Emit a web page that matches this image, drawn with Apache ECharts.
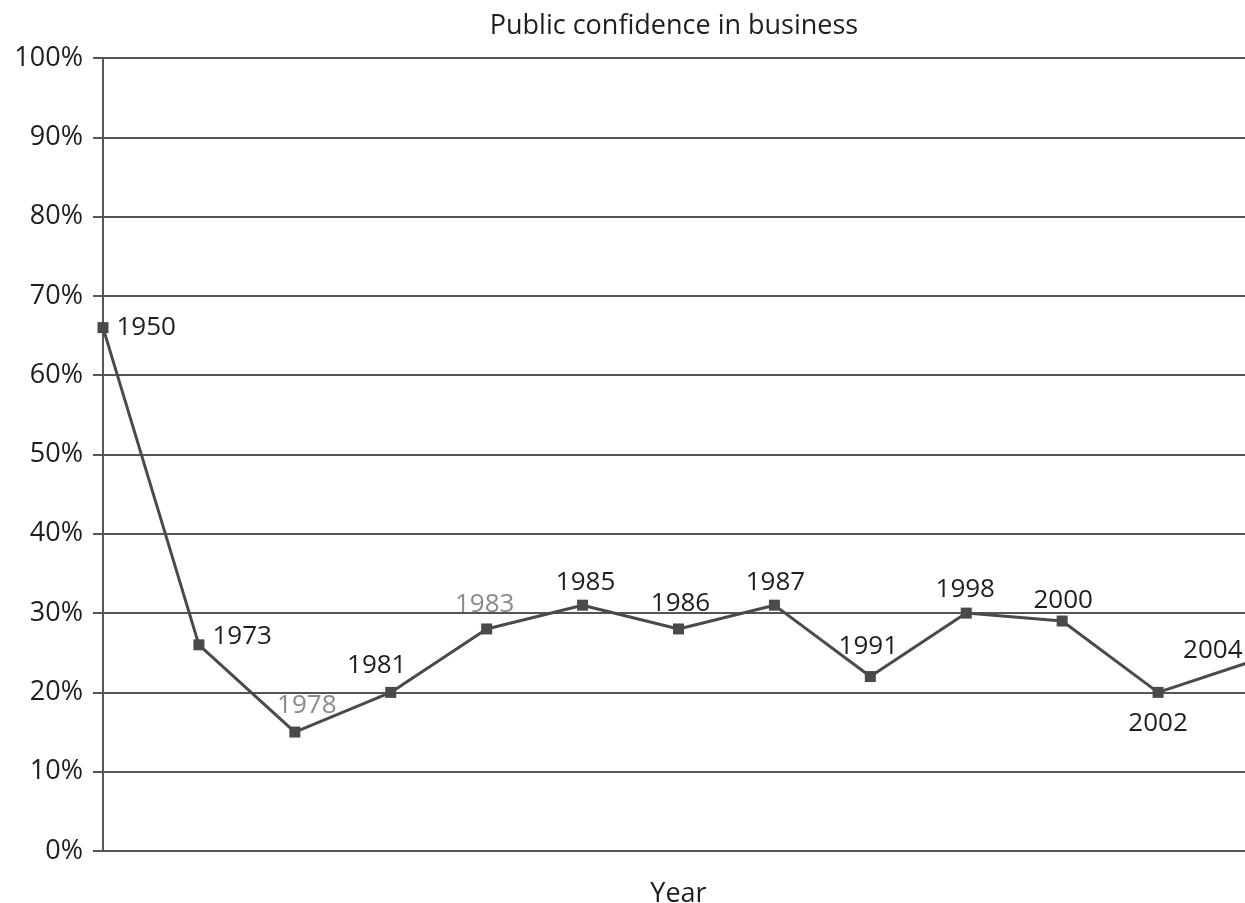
<!DOCTYPE html>
<html>
<head>
<meta charset="utf-8">
<script src="https://cdn.jsdelivr.net/npm/echarts@6/dist/echarts.min.js"></script>
<style>
html,body{margin:0;padding:0;background:#fff;}
#chart{width:1245px;height:903px;}
</style>
</head>
<body>
<div id="chart"></div>
<script>
var years = ['1950','1973','1978','1981','1983','1985','1986','1987','1991','1998','2000','2002','2004'];
var confidence = [66, 26, 15, 20, 28, 31, 28, 31, 22, 30, 29, 20, 24];
var labelPlacement = ['right','right','top','top','top','top','top','top','top','top','top','bottom','left'];
var labelOffsets = [[0,0],[0,-8],[12,0],[-14,0],[-2,2],[3,4],[2,1],[1,4],[-2,-3],[-1,3],[1,6],[0,5],[2,-10]];
var labelColors = ['#1e1e1e','#1e1e1e','#8a8a8a','#1e1e1e','#8a8a8a','#1e1e1e','#1e1e1e','#1e1e1e','#1e1e1e','#1e1e1e','#1e1e1e','#1e1e1e','#1e1e1e'];
var yTicks = [0,10,20,30,40,50,60,70,80,90,100];

var font = '"Open Sans", "Noto Sans", sans-serif';
var data = confidence.map(function (v, i) {
  return {
    value: v,
    label: {
      position: labelPlacement[i],
      offset: labelOffsets[i],
      color: labelColors[i]
    }
  };
});

var chart = echarts.init(document.getElementById('chart'));
chart.setOption({
  backgroundColor: '#ffffff',
  animation: false,
  title: {
    text: 'Public confidence in business',
    left: 669,
    textAlign: 'center',
    top: 8,
    textStyle: {fontFamily: font, fontSize: 27, fontWeight: 'normal', color: '#1e1e1e'}
  },
  grid: {left: 103, right: -9, top: 58, bottom: 52, containLabel: false, outerBoundsMode: 'none'},
  xAxis: {
    type: 'category',
    data: years,
    boundaryGap: false,
    axisLine: {show: true, lineStyle: {color: '#555', width: 2}},
    axisTick: {show: false},
    axisLabel: {show: false},
    splitLine: {show: false},
    name: 'Year',
    nameLocation: 'middle',
    nameGap: 30,
    nameTextStyle: {fontFamily: font, fontSize: 27, color: '#1e1e1e'}
  },
  yAxis: {
    type: 'value',
    min: 0,
    max: 100,
    interval: 10,
    axisLine: {show: true, lineStyle: {color: '#555', width: 2}},
    axisTick: {show: true, length: 10, lineStyle: {color: '#555', width: 2}},
    axisLabel: {
      formatter: function (v) { return yTicks.indexOf(v) >= 0 ? v + '%' : ''; },
      fontFamily: font, fontSize: 27, color: '#1e1e1e', margin: 20
    },
    splitLine: {show: true, lineStyle: {color: '#555', width: 2}}
  },
  series: [{
    type: 'line',
    data: data,
    symbol: 'rect',
    symbolSize: 11,
    itemStyle: {color: '#4a4a4a'},
    lineStyle: {color: '#4a4a4a', width: 3},
    label: {
      show: true,
      formatter: function (p) { return years[p.dataIndex]; },
      fontFamily: font,
      fontSize: 26,
      distance: 8
    }
  }]
});
</script>
</body>
</html>
